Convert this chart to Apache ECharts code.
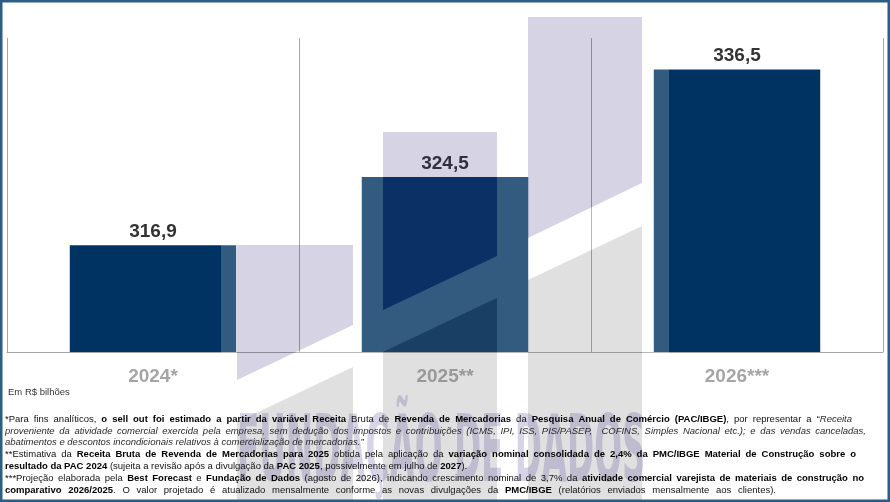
<!DOCTYPE html>
<html>
<head>
<meta charset="utf-8">
<script src="https://cdn.jsdelivr.net/npm/echarts@6/dist/echarts.min.js"></script>
<style>
html,body{margin:0;padding:0;background:#fff;}
#c{width:890px;height:502px;}
</style>
</head>
<body>
<div id="c"></div>
<script>
const categories = ['2024*', '2025**', '2026***'];
const values = [316.9, 324.5, 336.5];
const unitNote = 'Em R$ bilhões';
const footLines = [
  '{n|*Para fins analíticos, }{b|o sell out foi estimado a partir da variável Receita}{n| Bruta de }{b|Revenda de Mercadorias}{n| da }{b|Pesquisa Anual de Comércio (PAC/IBGE)}{n|, por representar a “}{i|Receita}',
  '{i|proveniente da atividade comercial exercida pela empresa, sem dedução dos impostos e contribuições (ICMS, IPI, ISS, PIS/PASEP,  COFINS, Simples Nacional etc.); e das vendas canceladas,}',
  '{i|abatimentos e descontos incondicionais relativos à comercialização de mercadorias.”}',
  '{n|**Estimativa da }{b|Receita Bruta de Revenda de Mercadorias para 2025}{n| obtida pela aplicação da }{b|variação nominal consolidada de 2,4% da PMC/IBGE Material de Construção sobre o}',
  '{b|resultado da PAC 2024}{n| (sujeita a revisão após a divulgação da }{b|PAC 2025}{n|, possivelmente em julho de }{b|2027}{n|).}',
  '{n|***Projeção elaborada pela }{b|Best Forecast}{n| e }{b|Fundação de Dados}{n| (agosto de 2026), indicando crescimento nominal de 3,7% da }{b|atividade comercial varejista de materiais de construção no}',
  '{b|comparativo 2026/2025}{n|. O valor projetado é atualizado mensalmente conforme as novas divulgações da }{b|PMC/IBGE}{n| (relatórios enviados mensalmente aos clientes).}'
];
// right edge each footnote line reaches in the original (null = natural width)
const footRightEdge = [852, 866, null, 856, null, 864, 776];
const watermarkText = 'FUNDAÇÃO DE DADOS';

const chart = echarts.init(document.getElementById('c'), null, {renderer: 'canvas'});
const FF = '"Liberation Sans", Arial, sans-serif';
const FS = 9.5;
const fonts = {
  n: FS + 'px ' + FF,
  b: 'bold ' + FS + 'px ' + FF,
  i: 'italic ' + FS + 'px ' + FF
};
const fills = {n: '#111', b: '#000', i: '#2a2a2a'};
const ctx = document.createElement('canvas').getContext('2d');
function mw(t, s) { ctx.font = fonts[s]; return ctx.measureText(t).width; }

function layoutLine(str, y, right) {
  const re = /\{(\w)\|([^}]*)\}/g;
  let m; const words = [[]];
  while ((m = re.exec(str)) !== null) {
    const s = m[1]; const parts = m[2].split(' ');
    parts.forEach(function (p, k) {
      if (k > 0) words.push([]);
      if (p.length) words[words.length - 1].push({t: p, s: s});
    });
  }
  const ww = words.map(function (w) { return w.reduce(function (a, r) { return a + mw(r.t, r.s); }, 0); });
  const sp = mw(' ', 'n');
  const gaps = words.length - 1;
  const natural = ww.reduce(function (a, b) { return a + b; }, 0) + gaps * sp;
  let gap = sp;
  const x0 = 5;
  if (right != null && gaps > 0) gap = sp + (right - x0 - natural) / gaps;
  const out = [];
  let x = x0;
  words.forEach(function (w, k) {
    let xx = x;
    w.forEach(function (r) {
      out.push({type: 'text', z: 60, silent: true, x: xx, y: y,
        style: {text: r.t, font: fonts[r.s], fill: fills[r.s], textAlign: 'left', textVerticalAlign: 'middle'}});
      xx += mw(r.t, r.s);
    });
    x += ww[k] + gap;
  });
  return out;
}

const LAV = 'rgba(50,40,120,0.2)';
const GRY = 'rgba(114,114,114,0.22)';
const WHT = 'rgba(255,255,255,0.2)';
function poly(points, fill) {
  return {type: 'polygon', z: 50, silent: true, shape: {points: points}, style: {fill: fill}};
}
function rect(x, y, w, h, fill) {
  return {type: 'rect', z: 50, silent: true, shape: {x: x, y: y, width: w, height: h}, style: {fill: fill}};
}
const wm = [
  rect(221, 10, 16, 492, WHT),
  rect(353, 10, 30, 492, WHT),
  rect(497, 10, 31, 492, WHT),
  rect(642, 10, 27, 492, WHT),
  poly([[237,245],[353,245],[353,325],[237,380]], LAV),
  poly([[237,380],[353,325],[353,367],[237,422]], WHT),
  poly([[237,422],[353,367],[353,502],[237,502]], GRY),
  poly([[383,132],[497,132],[497,256],[383,310]], LAV),
  poly([[383,310],[497,256],[497,298],[383,352]], WHT),
  poly([[383,352],[497,298],[497,502],[383,502]], GRY),
  poly([[528,17],[642,17],[642,183],[528,238]], LAV),
  poly([[528,238],[642,183],[642,226],[528,280]], WHT),
  poly([[528,280],[642,226],[642,502],[528,502]], GRY),
  {type: 'text', z: 51, silent: true, x: 237, y: 503, scaleX: 0.355, scaleY: 1,
   style: {text: watermarkText, font: 'bold 92px "DejaVu Sans", sans-serif', fill: 'rgba(70,60,140,0.22)', textAlign: 'left', textVerticalAlign: 'bottom'}}
];

let foot = [];
footLines.forEach(function (t, k) { foot = foot.concat(layoutLine(t, 419 + k * 11.9, footRightEdge[k])); });

chart.setOption({
  animation: false,
  backgroundColor: '#ffffff',
  grid: {left: 7, right: 7, top: 38, bottom: 150, containLabel: false},
  xAxis: {
    type: 'category',
    data: categories,
    boundaryGap: true,
    axisLine: {show: true, lineStyle: {color: '#A6A6A6', width: 1}},
    axisTick: {show: false},
    splitLine: {show: true, lineStyle: {color: '#A6A6A6', width: 1}},
    axisLabel: {margin: 15, fontFamily: FF, fontSize: 19, fontWeight: 'bold', color: '#A5A5A5'}
  },
  yAxis: {type: 'value', min: 305, max: 340, show: false, splitLine: {show: false}},
  series: [{
    type: 'bar',
    data: values,
    barWidth: '57%',
    itemStyle: {color: '#003361'},
    label: {
      show: true, position: 'top', distance: 4,
      fontFamily: FF, fontSize: 19, fontWeight: 'bold', color: '#333333',
      formatter: function (p) { return p.value.toFixed(1).replace('.', ','); }
    }
  }],
  graphic: wm.concat(foot).concat([
    {type: 'text', z: 60, silent: true, x: 8, y: 392,
     style: {text: unitNote, font: '9.5px "Liberation Sans", Arial, sans-serif', fill: '#333', textVerticalAlign: 'middle'}},
    {type: 'rect', z: 100, silent: true, shape: {x: 1.25, y: 1.25, width: 887.5, height: 499.5},
     style: {fill: 'none', stroke: '#2B5D86', lineWidth: 2.5}}
  ])
});
</script>
</body>
</html>
